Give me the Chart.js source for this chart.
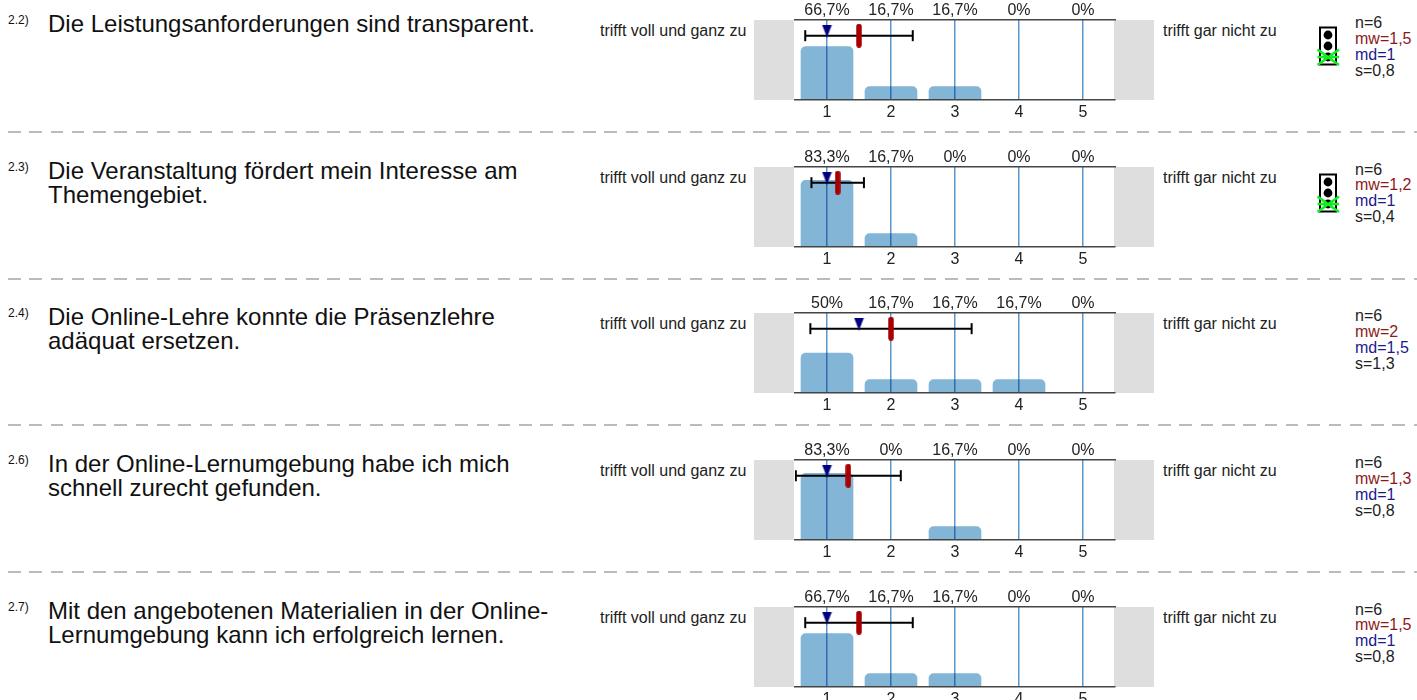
<!DOCTYPE html>
<html><head><meta charset="utf-8">
<script src="https://cdn.jsdelivr.net/npm/chart.js@4"></script>
<style>
html,body{margin:0;padding:0;background:#fff;width:1417px;height:700px;overflow:hidden;font-family:"Liberation Sans",Arial,sans-serif;color:#000}
.abs{position:absolute;white-space:nowrap}
.q{left:48px;font-size:24px;line-height:24px;color:#111}
.num{left:8px;font-size:12px;line-height:14px;color:#111}
.lab{font-size:16px;line-height:16px;color:#222}
.st{left:1355px;font-size:16px;line-height:15.9px;color:#222}
.mw{color:#8b1a1a}.md{color:#1a1a8b}
.dash{left:8px;width:1409px;height:2px;background:repeating-linear-gradient(90deg,#bbb 0,#bbb 12.5px,transparent 12.5px,transparent 21.3px)}
canvas{position:absolute}
</style></head><body>
<script>
const categories=['1','2','3','4','5'];
const questionNumbers=['2.2)','2.3)','2.4)','2.6)','2.7)'];
const questions=[
 ['Die Leistungsanforderungen sind transparent.'],
 ['Die Veranstaltung fördert mein Interesse am','Themengebiet.'],
 ['Die Online-Lehre konnte die Präsenzlehre','adäquat ersetzen.'],
 ['In der Online-Lernumgebung habe ich mich','schnell zurecht gefunden.'],
 ['Mit den angebotenen Materialien in der Online-','Lernumgebung kann ich erfolgreich lernen.']];
const percentages=[
 [66.7,16.7,16.7,0,0],
 [83.3,16.7,0,0,0],
 [50,16.7,16.7,16.7,0],
 [83.3,0,16.7,0,0],
 [66.7,16.7,16.7,0,0]];
const nValues=[6,6,6,6,6];
const means=[1.5,1.167,2,1.333,1.5];
const medians=[1,1,1.5,1,1];
const stdDevs=[0.84,0.41,1.26,0.82,0.84];
const mwLabels=['1,5','1,2','2','1,3','1,5'];
const mdLabels=['1','1','1,5','1','1'];
const sLabels=['0,8','0,4','1,3','0,8','0,8'];
const hasLight=[true,true,false,false,false];
const leftLabel='trifft voll und ganz zu';
const rightLabel='trifft gar nicht zu';
const panelTops=[20,166.5,313,460,606.5];
const dashYs=[131,278,424,571];

function add(cls,left,top,html){const d=document.createElement('div');d.className='abs '+cls;
 if(left!==null)d.style.left=left+'px';d.style.top=top+'px';d.innerHTML=html;document.body.appendChild(d);return d;}
function fmt(v){return (v+'%').replace('.',',');}

function pointImg(kind){
 const c=document.createElement('canvas');
 if(kind==='mean'){c.width=6;c.height=24;
  const g=c.getContext('2d');g.fillStyle='#a80000';g.beginPath();g.roundRect(0.25,0,5.5,24,2.75);g.fill();}
 else{c.width=11;c.height=13;
  const g=c.getContext('2d');g.fillStyle='#000080';g.beginPath();g.moveTo(0.5,0);g.lineTo(10.5,0);g.lineTo(5.5,13);g.closePath();g.fill();}
 return c;
}
const meanImg=pointImg('mean'),medImg=pointImg('med');

const multiplyBars={id:'multiplyBars',
 beforeDatasetDraw(ch,a){if(a.index===0){ch.ctx.save();ch.ctx.globalCompositeOperation='multiply';}},
 afterDatasetDraw(ch,a){if(a.index===0){ch.ctx.restore();}}};

const STAT_Y=80.4, MED_Y=86.25;
const tickFont={family:'Liberation Sans',size:16};
questions.forEach((lines,i)=>{
 const top=panelTops[i];
 add('num',8,top-7,questionNumbers[i]);
 add('q',null,top-8,lines.join('<br>'));
 add('lab',600,top+3,leftLabel);
 add('lab',1163,top+3,rightLabel);
 add('st',null,top-5,`n=${nValues[i]}<br><span class="mw">mw=${mwLabels[i]}</span><br><span class="md">md=${mdLabels[i]}</span><br>s=${sLabels[i]}`);
 [754,1114].forEach(l=>{const g=document.createElement('div');g.className='abs';
  g.style.cssText+=`left:${l}px;top:${top}px;width:40px;height:80px;background:#dedede`;document.body.appendChild(g);});
 const wrap=document.createElement('div');wrap.className='abs';
 wrap.style.cssText+=`left:754.5px;top:${top-20}px;width:400px;height:120px`;
 document.body.appendChild(wrap);
 const cv=document.createElement('canvas');cv.width=400;cv.height=120;
 cv.style.left='0';cv.style.top='0';cv.style.width='400px';cv.style.height='120px';wrap.appendChild(cv);
 const s=stdDevs[i],m=means[i];
 new Chart(cv,{
  data:{labels:categories,datasets:[
   {type:'bar',data:percentages[i],xAxisID:'x',yAxisID:'y',backgroundColor:'#82b5d6',borderWidth:0,
    grouped:false,barPercentage:1,categoryPercentage:1,maxBarThickness:52,borderRadius:{topLeft:5,topRight:5,bottomLeft:0,bottomRight:0},borderSkipped:'bottom',order:5},
   {type:'line',data:[{x:m-s,y:STAT_Y},{x:m+s,y:STAT_Y}],xAxisID:'xv',yAxisID:'y',borderColor:'#000',borderWidth:2,
    pointStyle:'line',pointRotation:90,pointRadius:5.5,pointBorderWidth:2,pointBorderColor:'#000',order:3},
   {type:'line',data:[{x:m,y:STAT_Y}],xAxisID:'xv',yAxisID:'y',pointStyle:meanImg,showLine:false,order:1},
   {type:'line',data:[{x:medians[i],y:MED_Y}],xAxisID:'xv',yAxisID:'y',pointStyle:medImg,showLine:false,order:2}
  ]},
  options:{responsive:false,animation:false,devicePixelRatio:1,
   layout:{autoPadding:false,padding:{left:40,right:40,top:0,bottom:0}},
   plugins:{legend:{display:false},tooltip:{enabled:false}},
   scales:{
    x:{type:'category',position:'bottom',offset:true,labels:categories,
      afterFit(sc){sc.height=20;},
      grid:{offset:false,color:'#5b97cc',lineWidth:1.5,drawTicks:false},border:{display:true,color:'#444',width:1.5,z:2},
      ticks:{color:'#222',font:tickFont,padding:3,maxRotation:0,autoSkip:false}},
    x2:{type:'category',position:'top',offset:true,labels:percentages[i].map(fmt),
      afterFit(sc){sc.height=20;},
      grid:{display:true,drawOnChartArea:false,drawTicks:false},border:{display:true,color:'#444',width:1.5,z:2},
      ticks:{color:'#222',font:tickFont,padding:0,maxRotation:0,autoSkip:false}},
    xv:{type:'linear',display:false,min:0.5,max:5.5},
    y:{display:false,min:0,max:100}
   }},
  plugins:[multiplyBars]
 });
 if(hasLight[i]){
  add('',1317,top+6,`<svg width="24" height="42" viewBox="0 0 24 42" style="display:block">
  <rect x="3" y="1.5" width="16" height="37" fill="#fff" stroke="#000" stroke-width="2"/>
  <circle cx="11" cy="9" r="4.4" fill="#000"/><circle cx="11" cy="20" r="4.4" fill="#000"/><circle cx="11" cy="31" r="4.4" fill="#000"/>
  <g stroke="#10ee20" stroke-width="2.6" fill="none"><path d="M0.5 23.5L22 39M22 23.5L0.5 39M0.5 31H22"/></g></svg>`);
 }
});
dashYs.forEach(y=>{add('dash',null,y,'');});
</script>
</body></html>
